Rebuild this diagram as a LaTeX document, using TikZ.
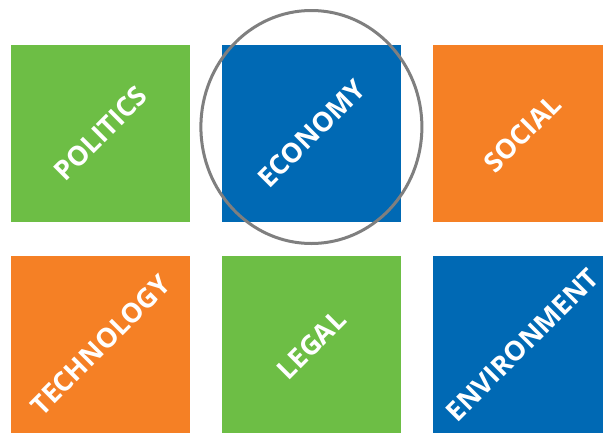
\documentclass[tikz,border=0pt]{standalone}
\usepackage{fontspec}
\setmainfont{Open Sans}
\usetikzlibrary{positioning,shapes.geometric}
\definecolor{pestgreen}{HTML}{6DBE45}
\definecolor{pestblue}{HTML}{0069B4}
\definecolor{pestorange}{HTML}{F58025}
\definecolor{ringgray}{HTML}{7F7F7F}

\begin{document}
\begin{tikzpicture}[
    x=1pt, y=-1pt,
    tile/.style={rectangle, inner sep=0pt, minimum width=179pt, minimum height=177pt},
    caption/.style={text=white, inner sep=0pt, font=\bfseries\fontsize{27}{31}\selectfont, rotate=45},
    ring/.style={ellipse, draw=ringgray, line width=3pt, minimum width=221pt, minimum height=233pt, inner sep=0pt},
]
    \clip (0,0) rectangle (603,432);

    % Top row
    \node[tile, fill=pestgreen] (politics) at (100.5,133.5) {};
    \node[tile, fill=pestblue, right=31.5pt of politics] (economy) {};
    \node[tile, fill=pestorange, right=31.5pt of economy] (social) {};

    % Bottom row
    \node[tile, fill=pestorange, below=34pt of politics] (technology) {};
    \node[tile, fill=pestgreen, right=31.5pt of technology] (legal) {};
    \node[tile, fill=pestblue, right=31.5pt of legal] (environment) {};

    % Captions
    \node[caption] (politics-text) at (politics) {POLITICS};
    \node[caption] (economy-text) at (economy) {ECONOMY};
    \node[caption] (social-text) at (social) {SOCIAL};
    \node[caption] (technology-text) at (technology) {TECHNOLOGY};
    \node[caption] (legal-text) at (legal) {LEGAL};
    \node[caption] (environment-text) at (environment) {ENVIRONMENT};

    % Highlight
    \node[ring, yshift=6.5pt] (focus) at (economy) {};
\end{tikzpicture}
\end{document}
